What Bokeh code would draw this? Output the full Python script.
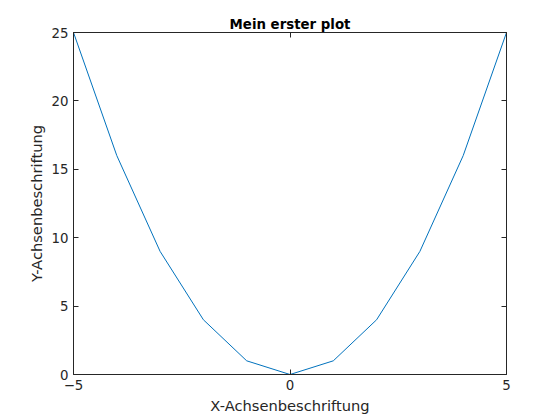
from bokeh.plotting import figure
from bokeh.models import LinearAxis, FixedTicker, Range1d
from bokeh.embed import file_html
from bokeh.resources import INLINE

x = [-5, -4, -3, -2, -1, 0, 1, 2, 3, 4, 5]
y = [25, 16, 9, 4, 1, 0, 1, 4, 9, 16, 25]
xticks = [-5, 0, 5]
yticks = [0, 5, 10, 15, 20, 25]

p = figure(width=552, height=412, output_backend="svg", toolbar_location=None,
           x_range=Range1d(-5, 5), y_range=Range1d(0, 25),
           frame_width=433, frame_height=342,
           min_border_left=73, min_border_right=46, min_border_top=32, min_border_bottom=38,
           x_axis_location=None, y_axis_location=None)
p.title.text = "Mein erster plot"
p.title.align = "center"
p.title.text_font = "DejaVu Sans"
p.title.text_font_size = "10pt"
p.title.text_font_style = "bold"
p.title.text_color = "black"
p.title.offset = 0
p.title.standoff = 2
p.grid.visible = False
p.outline_line_color = "#262626"
p.outline_line_width = 0.6

def mk(label=None, labels=True, ticks=None):
    a = LinearAxis(ticker=FixedTicker(ticks=ticks))
    a.major_tick_in = 5
    a.major_tick_out = 0
    a.minor_tick_line_color = None
    a.axis_line_color = "#262626"
    a.major_tick_line_color = "#262626"
    a.major_label_text_font = "DejaVu Sans"
    a.major_label_text_font_size = "10pt"
    a.major_label_text_color = "#262626"
    if label:
        a.axis_label = label
        a.axis_label_text_font = "DejaVu Sans"
        a.axis_label_text_font_size = "11pt"
        a.axis_label_text_font_style = "normal"
        a.axis_label_text_color = "#262626"
        a.axis_label_standoff = 4
    if not labels:
        a.major_label_text_color = None
        a.major_label_standoff = 0
    return a

p.add_layout(mk("X-Achsenbeschriftung", True, xticks), "below")
p.add_layout(mk("Y-Achsenbeschriftung", True, yticks), "left")
p.add_layout(mk(None, False, xticks), "above")
p.add_layout(mk(None, False, yticks), "right")

p.line(x, y, line_color="#0072BD", line_width=1)

open("out.html", "w").write(file_html(p, INLINE))
